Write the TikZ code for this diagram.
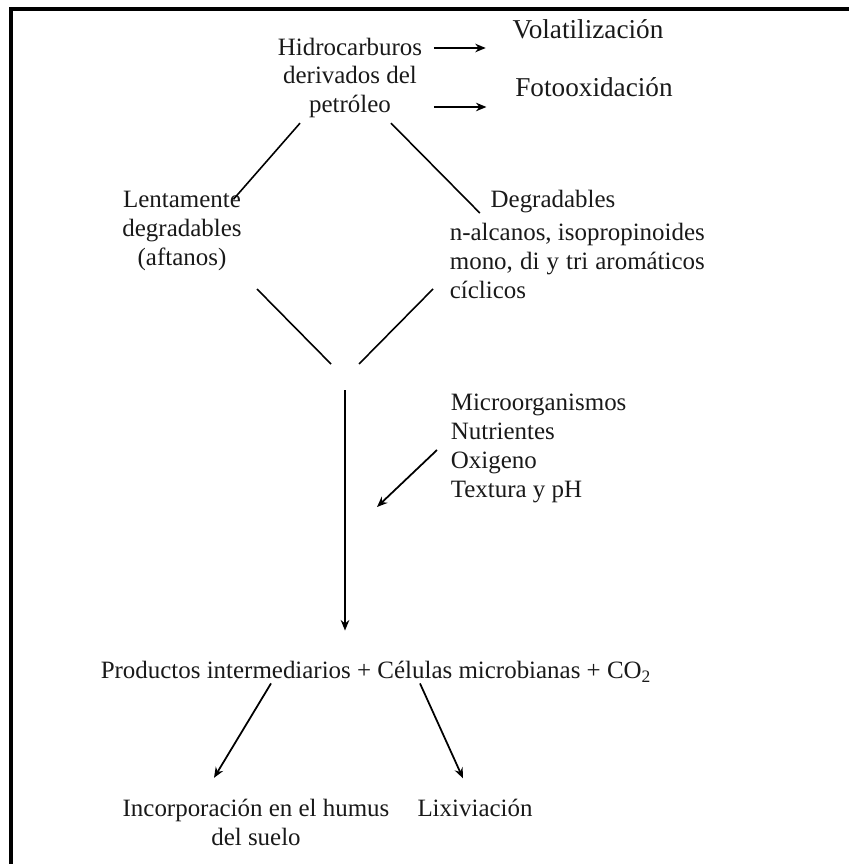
\documentclass[tikz,border=0pt]{standalone}
\usepackage{fontspec}
\setmainfont{Liberation Serif}
\usetikzlibrary{arrows.meta,calc}
\newlength\listwd

\begin{document}
\begin{tikzpicture}[x=0.02cm,y=-0.02cm,
    txt/.style={inner sep=2pt,text=black!90,font=\fontsize{14.2}{16.5}\selectfont,align=center},
    big/.style={font=\fontsize{15.5}{17}\selectfont},
    arr/.style={-{Stealth[length=2.1mm,width=1.7mm]},line width=1pt},
    ln/.style={line width=0.9pt}]
  \useasboundingbox (0,0) rectangle (849,864);
  \draw[line width=2.2pt] (11,864) -- (11,9) -- (849,9);
  % top
  \node[txt] (hidro) at (350,78) {Hidrocarburos\\derivados del\\petróleo};
  \node[txt,big] (vol) at (588,29) {Volatilización};
  \node[txt,big] (foto) at (594,87) {Fotooxidación};
  \draw[arr] ($(hidro.east)+(8,-30)$) -- ($(vol.west)+(-23,19)$);
  \draw[arr] ($(hidro.east)+(8,29)$) -- ($(foto.west)+(-25,20)$);
  % two branches
  \node[txt] (lent) at (182,231) {Lentamente\\degradables\\(aftanos)};
  \node[txt] (degr) at (553,202) {Degradables};
  \node[txt,align=left,anchor=west] (tipos) at (446,261)
    {\settowidth{\listwd}{n-alcanos, isopropinoides}\global\listwd=\listwd
     n-alcanos, isopropinoides\\
     \makebox[\listwd][s]{mono, di y tri aromáticos}\\cíclicos};
  \draw[ln] ($(hidro.south)+(-50,1)$) -- ($(lent.north east)+(-12,12)$);
  \draw[ln] ($(hidro.south)+(41,1)$) -- ($(degr.west)+(-7,11)$);
  % merge
  \coordinate (vl) at (257,289);
  \coordinate (vr) at (433,289);
  \coordinate (vm) at (345,390);
  \draw[ln] (vl) -- ($(vm)+(-14,-26)$);
  \draw[ln] (vr) -- ($(vm)+(14,-26)$);
  \node[txt] (prod) at (376,672)
    {Productos intermediarios + Células microbianas + CO\textsubscript{2}};
  \draw[arr,line width=1.3pt] (vm) -- ($(vm |- prod.north)+(0,-27)$);
  % factors
  \node[txt,align=left,anchor=west] (fact) at (447,448)
    {Microorganismos\\Nutrientes\\Oxigeno\\Textura y pH};
  \coordinate (fin) at (377,507);
  \draw[arr] ($(fact.west)+(-10,2)$) -- (fin);
  % bottom
  \node[txt] (inc) at (256,822) {Incorporación en el humus\\del suelo};
  \node[txt] (lix) at (475,808) {Lixiviación};
  \draw[arr] ($(prod.south)+(-105,-3)$) -- ($(inc.north)+(-42,-17)$);
  \draw[arr] ($(prod.south)+(44,-3)$) -- ($(lix.north)+(-12,-17)$);
\end{tikzpicture}
\end{document}
